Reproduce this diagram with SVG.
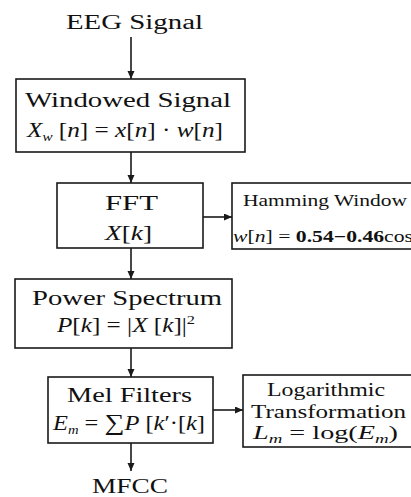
<svg xmlns="http://www.w3.org/2000/svg" width="411" height="497" viewBox="0 0 411 497">
  <style>
    .box { fill: #ffffff; stroke: #1a1a1a; stroke-width: 1.6; }
    .t { font-family: "Liberation Serif", "Times New Roman", serif; fill: #111111; font-size: 20px; }
    .s { font-size: 16px; }
    .m { font-size: 18px; }
    .i { font-style: italic; }
    .b { font-weight: bold; }
    .sub { font-size: 12px; font-style: italic; }
    .edge { fill: none; stroke: #1a1a1a; stroke-width: 1.6; marker-end: url(#arrow); }
  </style>
  <defs>
    <marker id="arrow" markerUnits="userSpaceOnUse" markerWidth="9" markerHeight="8" refX="8" refY="3.5" orient="auto">
      <path d="M0,0 L8,3.5 L0,7 Z" fill="#1a1a1a"/>
    </marker>
  </defs>

  <rect width="411" height="497" fill="#ffffff"/>

  <!-- connectors -->
  <g id="connectors">
    <path class="edge" d="M131 37 V79"/>
    <path class="edge" d="M131 152 V183"/>
    <path class="edge" d="M203 217 H232"/>
    <path class="edge" d="M131 248 V279"/>
    <path class="edge" d="M131 348 V377"/>
    <path class="edge" d="M213 410 H243"/>
    <path class="edge" d="M131 443 V471"/>
  </g>

  <g id="eeg-signal">
    <text class="t" x="66" y="29" textLength="137" lengthAdjust="spacingAndGlyphs">EEG Signal</text>
  </g>

  <g id="windowed-signal">
    <rect class="box" x="16" y="79" width="229" height="73"/>
    <text class="t" x="25" y="107" textLength="206" lengthAdjust="spacingAndGlyphs">Windowed Signal</text>
    <text class="t" x="27" y="137" textLength="196" lengthAdjust="spacingAndGlyphs"><tspan class="i">X</tspan><tspan class="sub" dy="4">w</tspan><tspan dy="-4"> [</tspan><tspan class="i">n</tspan>] = <tspan class="i">x</tspan>[<tspan class="i">n</tspan>] · <tspan class="i">w</tspan>[<tspan class="i">n</tspan>]</text>
  </g>

  <g id="fft">
    <rect class="box" x="57" y="183" width="146" height="65"/>
    <text class="t" x="105" y="210" textLength="53" lengthAdjust="spacingAndGlyphs">FFT</text>
    <text class="t" x="105" y="240" textLength="47" lengthAdjust="spacingAndGlyphs"><tspan class="i">X</tspan>[<tspan class="i">k</tspan>]</text>
  </g>

  <g id="hamming-window">
    <rect class="box" x="232" y="183" width="200" height="66"/>
    <text class="t s" x="243" y="206" textLength="164" lengthAdjust="spacingAndGlyphs">Hamming Window</text>
    <text class="t s" x="233" y="242" textLength="180" lengthAdjust="spacingAndGlyphs"><tspan class="i">w</tspan>[<tspan class="i">n</tspan>] = <tspan class="b">0.54−0.46</tspan>cos</text>
  </g>

  <g id="power-spectrum">
    <rect class="box" x="15" y="279" width="217" height="69"/>
    <text class="t" x="32" y="305" textLength="190" lengthAdjust="spacingAndGlyphs">Power Spectrum</text>
    <text class="t" x="57" y="332" textLength="138" lengthAdjust="spacingAndGlyphs"><tspan class="i">P</tspan>[<tspan class="i">k</tspan>] = |<tspan class="i">X</tspan> [<tspan class="i">k</tspan>]|<tspan font-size="13" dy="-8">2</tspan></text>
  </g>

  <g id="mel-filters">
    <rect class="box" x="48" y="377" width="165" height="66"/>
    <text class="t" x="67" y="402" textLength="125" lengthAdjust="spacingAndGlyphs">Mel Filters</text>
    <text class="t" x="53" y="430" textLength="152" lengthAdjust="spacingAndGlyphs"><tspan class="i">E</tspan><tspan class="sub" dy="4">m</tspan><tspan dy="-4"> = </tspan><tspan font-size="23">∑</tspan><tspan class="i">P</tspan> [<tspan class="i">k</tspan>′·[<tspan class="i">k</tspan>]</text>
  </g>

  <g id="logarithmic-transformation">
    <rect class="box" x="243" y="375" width="200" height="72"/>
    <text class="t m" x="267" y="396" textLength="118" lengthAdjust="spacingAndGlyphs">Logarithmic</text>
    <text class="t m" x="251" y="418" textLength="155" lengthAdjust="spacingAndGlyphs">Transformation</text>
    <text class="t m" x="253" y="439" textLength="145" lengthAdjust="spacingAndGlyphs"><tspan class="i">L</tspan><tspan class="sub" dy="4">m</tspan><tspan dy="-4"> = log(</tspan><tspan class="i">E</tspan><tspan class="sub" dy="4">m</tspan><tspan dy="-4">)</tspan></text>
  </g>

  <g id="mfcc">
    <text class="t" x="92" y="493" textLength="76" lengthAdjust="spacingAndGlyphs">MFCC</text>
  </g>
</svg>
